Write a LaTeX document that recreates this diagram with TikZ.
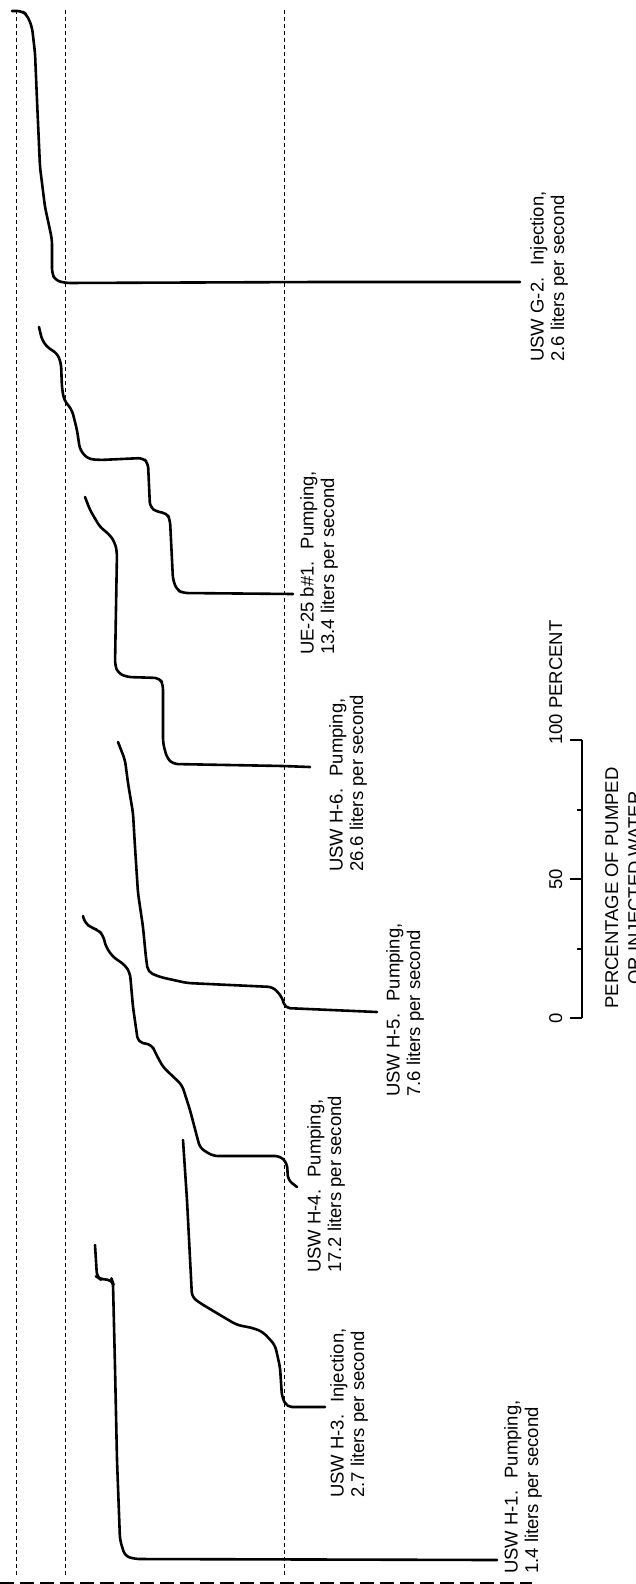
\documentclass[tikz,border=0pt]{standalone}
\usepackage{fontspec}
\setmainfont{Liberation Sans}
\begin{document}
\begin{tikzpicture}[x=1pt,y=-1pt,
    guide/.style={line width=0.9pt, dash pattern=on 4pt off 3pt},
    curve/.style={line width=2.6pt, rounded corners=5pt, line join=round, line cap=round},
    bar/.style={line width=1.4pt},
    lbl/.style={rotate=90, anchor=north west, inner sep=0pt, align=left,
      font=\fontsize{18.5}{20.5}\selectfont}]
\useasboundingbox (0,0) rectangle (636,1584);
\clip (0,0) rectangle (636,1584);
% guide lines
\foreach \x in {16,65,284}
  \draw[guide] (\x,10) -- (\x,1575);
\draw[guide, line width=1.3pt, dash pattern=on 14pt off 6pt] (0,1583) -- (532,1583);
% USW G-2
\draw[curve] (12,11) -- (22,11) -- (27,15) -- (32,27) -- (35,53) -- (37,100) -- (40,167)
  -- (45,207) -- (50,230) -- (52,240) -- (52,273) -- (55,280) -- (65,283) -- (320,282) -- (520,282);
% UE-25 b#1
\draw[curve] (39,327) -- (42,340) -- (48,348) -- (57,353) -- (61,363) -- (62,388) -- (64,400)
  -- (72,410) -- (77,430) -- (80,450) -- (88,459) -- (100,460) -- (143,458) -- (148,463)
  -- (150,507) -- (157,512) -- (167,513) -- (170,520) -- (173,580) -- (177,590) -- (183,593) -- (293,594);
% USW H-6
\draw[curve] (85,497) -- (90,510) -- (100,527) -- (110,535) -- (115,543) -- (117,552) -- (115,665)
  -- (118,673) -- (127,677) -- (160,678) -- (163,685) -- (163,743) -- (167,758) -- (173,764)
  -- (283,766) -- (310,767);
% USW H-5
\draw[curve] (118,742) -- (125,760) -- (128,783) -- (133,813) -- (135,847) -- (138,893) -- (143,927)
  -- (146,958) -- (148,972) -- (160,977) -- (187,983) -- (273,987) -- (282,997) -- (285,1008) -- (377,1012);
% USW H-4
\draw[curve] (83,916) -- (85,923) -- (92,928) -- (98,930) -- (103,935) -- (106,947) -- (113,957)
  -- (125,965) -- (130,973) -- (133,1007) -- (138,1042) -- (152,1045) -- (155,1052) -- (163,1067)
  -- (182,1085) -- (190,1110) -- (200,1148) -- (213,1156) -- (280,1156) -- (287,1163) -- (288,1180) -- (297,1187);
% USW H-3
\draw[curve] (183,1140) -- (187,1200) -- (192,1297) -- (200,1303) -- (220,1315) -- (237,1325)
  -- (253,1328) -- (263,1332) -- (275,1345) -- (280,1367) -- (282,1397) -- (287,1407) -- (325,1407);
% USW H-1
\draw[curve] (95,1245) -- (97,1277) -- (100,1279) -- (112,1280) -- (113,1283) -- (115,1367)
  -- (117,1460) -- (120,1540) -- (125,1556) -- (135,1559) -- (497,1560);
% labels
\node[lbl] (g2) at (530,362) {USW G-2.~ Injection,\\2.6 liters per second};
\node[lbl] (ue25) at (300,655) {UE-25 b\#1.~ Pumping,\\13.4 liters per second};
\node[lbl] (h6) at (329,872) {USW H-6.~ Pumping,\\26.6 liters per second};
\node[lbl] (h5) at (386,1097) {USW H-5.~ Pumping,\\7.6 liters per second};
\node[lbl] (h4) at (307,1273) {USW H-4.~ Pumping,\\17.2 liters per second};
\node[lbl] (h3) at (330,1498) {USW H-3.~ Injection,\\2.7 liters per second};
\node[lbl] (h1) at (504,1574) {USW H-1.~ Pumping,\\1.4 liters per second};
% scale
\draw[bar] (582,740) -- (582,1018);
\foreach \y in {740,879,1018}
  \draw[bar] (570,\y) -- (582,\y);
\foreach \y in {810,949}
  \draw[bar] (577,\y) -- (582,\y);
\node[lbl, anchor=base] (s0) at (562,1018) {0};
\node[lbl, anchor=base] (s50) at (562,879) {50};
\node[lbl, anchor=base west] (s100) at (562,745) {100 PERCENT};
\node[lbl, anchor=north, align=center, font=\fontsize{18.5}{23}\selectfont] (title) at (605,888)
  {PERCENTAGE OF PUMPED\\OR INJECTED WATER};
\end{tikzpicture}
\end{document}
